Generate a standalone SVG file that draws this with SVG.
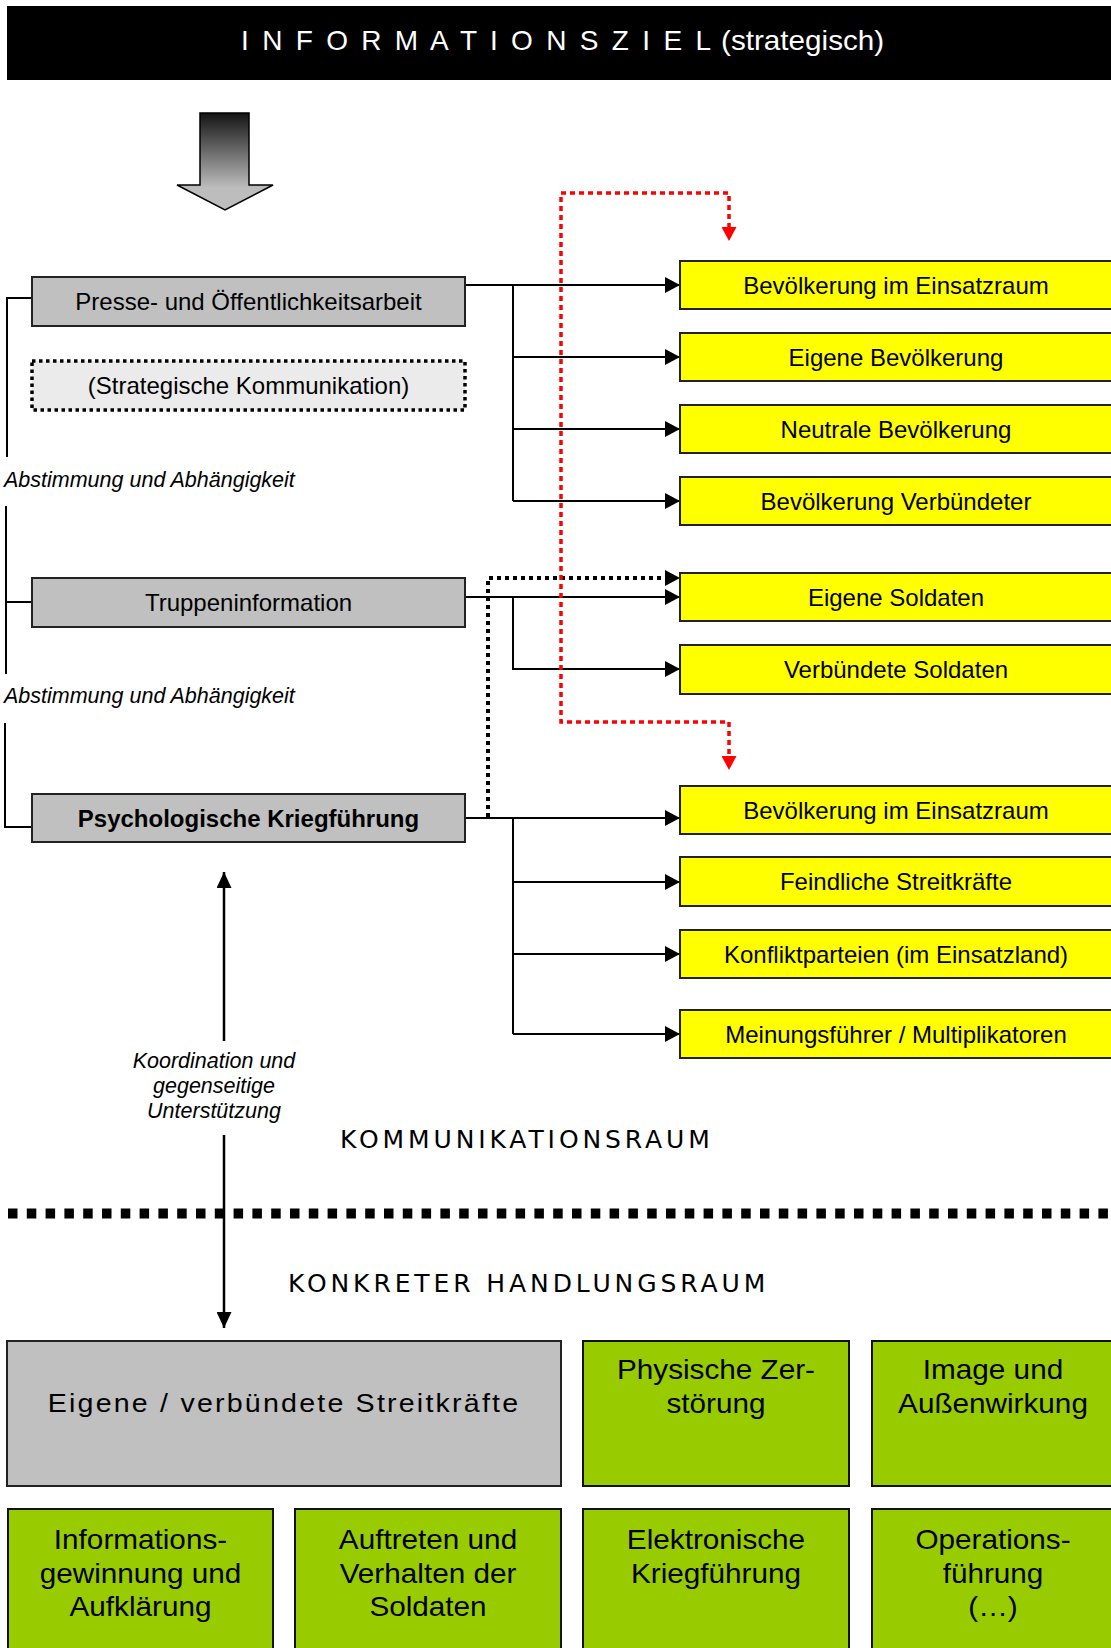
<svg xmlns="http://www.w3.org/2000/svg" width="1111" height="1648" viewBox="0 0 1111 1648">
<style>
  .lbl { font-family: "Liberation Sans", Arial, sans-serif; font-size: 24px; fill: #000; text-anchor: middle; }
  .big { font-family: "Liberation Sans", Arial, sans-serif; font-size: 27px; fill: #000; text-anchor: middle; }
  .ital { font-family: "Liberation Sans", Arial, sans-serif; font-size: 21.5px; font-style: italic; fill: #000; }
  .space { font-family: "DejaVu Sans", Verdana, sans-serif; font-size: 25px; fill: #000; letter-spacing: 3.9px; }
  .grey { fill: #c0c0c0; stroke: #222; stroke-width: 2; }
  .yel { fill: #ffff00; stroke: #222; stroke-width: 2; }
  .grn { fill: #99cc00; stroke: #111; stroke-width: 2; }
  .con { fill: none; stroke: #000; stroke-width: 2; }
</style>
<defs>
  <marker id="ah" markerUnits="userSpaceOnUse" markerWidth="15" markerHeight="16" refX="15" refY="8" orient="auto">
    <path d="M0,0 L15,8 L0,16 z" fill="#000"/>
  </marker>
  <marker id="ahv" markerUnits="userSpaceOnUse" markerWidth="16" markerHeight="15" refX="16" refY="7.5" orient="auto">
    <path d="M0,0 L16,7.5 L0,15 z" fill="#000"/>
  </marker>
  <marker id="ahr" markerUnits="userSpaceOnUse" markerWidth="14" markerHeight="15" refX="14" refY="7.5" orient="auto">
    <path d="M0,0 L14,7.5 L0,15 z" fill="#ff0000"/>
  </marker>
  <linearGradient id="gArrow" gradientUnits="userSpaceOnUse" x1="0" y1="113" x2="0" y2="188">
    <stop offset="0" stop-color="#141414"/>
    <stop offset="1" stop-color="#bdbdbd"/>
  </linearGradient>
</defs>

<rect width="1111" height="1648" fill="#fff"/>

<g id="title">
  <rect x="7" y="6" width="1110" height="74" fill="#000"/>
  <text x="241" y="50" font-family="Liberation Sans, Arial, sans-serif" font-size="28" fill="#fff" textLength="470" lengthAdjust="spacing">I N F O R M A T I O N S Z I E L</text>
  <text transform="translate(721,50) scale(1.06,1)" font-family="Liberation Sans, Arial, sans-serif" font-size="28" fill="#fff">(strategisch)</text>
</g>

<g id="bigArrow">
  <path d="M200,113 H249 V185 H273 L225,210 L177,185 H200 Z" fill="url(#gArrow)" stroke="#000" stroke-width="1.5"/>
</g>

<g id="connectors">
  <path class="con" d="M32,298 H7 V457"/>
  <path class="con" d="M6,506 V674 M6,602 H32"/>
  <path class="con" d="M5,723 V827 H32"/>
  <path class="con" d="M465,285 H680" marker-end="url(#ah)"/>
  <path class="con" d="M513,285 V501"/>
  <path class="con" d="M513,357 H680" marker-end="url(#ah)"/>
  <path class="con" d="M513,429 H680" marker-end="url(#ah)"/>
  <path class="con" d="M513,501 H680" marker-end="url(#ah)"/>
  <path class="con" d="M465,597 H680" marker-end="url(#ah)"/>
  <path class="con" d="M513,597 V669 H680" marker-end="url(#ah)"/>
  <path class="con" d="M465,818 H680" marker-end="url(#ah)"/>
  <path class="con" d="M513,818 V1034"/>
  <path class="con" d="M513,882 H680" marker-end="url(#ah)"/>
  <path class="con" d="M513,954 H680" marker-end="url(#ah)"/>
  <path class="con" d="M513,1034 H680" marker-end="url(#ah)"/>
  <path d="M488,817 V578 H666" fill="none" stroke="#000" stroke-width="4" stroke-dasharray="4 4"/>
  <path d="M666,578 H680" fill="none" stroke="none" marker-end="url(#ah)"/>
  <path d="M729,228 V193 H561 V722 H729 V757" fill="none" stroke="#ff0000" stroke-width="3.5" stroke-dasharray="5 4"/>
  <path d="M729,228 V241" fill="none" stroke="none" marker-end="url(#ahr)"/>
  <path d="M729,757 V770" fill="none" stroke="none" marker-end="url(#ahr)"/>
  <line x1="8" y1="1213.5" x2="1111" y2="1213.5" stroke="#000" stroke-width="10" stroke-dasharray="9.5 9.3"/>
  <path d="M224,1041 V872" fill="none" stroke="#000" stroke-width="2.5" marker-end="url(#ahv)"/>
  <path d="M224,1135 V1328" fill="none" stroke="#000" stroke-width="2.5" marker-end="url(#ahv)"/>
</g>

<g id="labels">
  <text class="ital" x="4" y="487">Abstimmung und Abhängigkeit</text>
  <text class="ital" x="4" y="703">Abstimmung und Abhängigkeit</text>
  <text class="ital" x="214" y="1068" text-anchor="middle">Koordination und</text>
  <text class="ital" x="214" y="1093" text-anchor="middle">gegenseitige</text>
  <text class="ital" x="214" y="1118" text-anchor="middle">Unterstützung</text>
  <text class="space" x="340" y="1148">KOMMUNIKATIONSRAUM</text>
  <text class="space" x="288" y="1292">KONKRETER HANDLUNGSRAUM</text>
</g>

<g id="presse">
  <rect class="grey" x="32" y="277" width="433" height="49"/>
  <text class="lbl" x="248.5" y="310">Presse- und Öffentlichkeitsarbeit</text>
</g>
<g id="strategische">
  <rect x="32" y="361" width="433" height="49" fill="#ebebeb" stroke="#000" stroke-width="3.5" stroke-dasharray="3.5 3.5"/>
  <text class="lbl" x="248.5" y="394">(Strategische Kommunikation)</text>
</g>
<g id="truppen">
  <rect class="grey" x="32" y="578" width="433" height="49"/>
  <text class="lbl" x="248.5" y="611">Truppeninformation</text>
</g>
<g id="psych">
  <rect class="grey" x="32" y="794" width="433" height="48"/>
  <text class="lbl" x="248.5" y="826.5" font-weight="bold">Psychologische Kriegführung</text>
</g>

<g id="y1"><rect class="yel" x="680" y="261" width="434" height="48"/><text class="lbl" x="896" y="293.5">Bevölkerung im Einsatzraum</text></g>
<g id="y2"><rect class="yel" x="680" y="333" width="434" height="48"/><text class="lbl" x="896" y="365.5">Eigene Bevölkerung</text></g>
<g id="y3"><rect class="yel" x="680" y="405" width="434" height="48"/><text class="lbl" x="896" y="437.5">Neutrale Bevölkerung</text></g>
<g id="y4"><rect class="yel" x="680" y="477" width="434" height="48"/><text class="lbl" x="896" y="509.5">Bevölkerung Verbündeter</text></g>
<g id="y5"><rect class="yel" x="680" y="573" width="434" height="48"/><text class="lbl" x="896" y="605.5">Eigene Soldaten</text></g>
<g id="y6"><rect class="yel" x="680" y="645" width="434" height="49"/><text class="lbl" x="896" y="678">Verbündete Soldaten</text></g>
<g id="y7"><rect class="yel" x="680" y="786" width="434" height="48"/><text class="lbl" x="896" y="818.5">Bevölkerung im Einsatzraum</text></g>
<g id="y8"><rect class="yel" x="680" y="857" width="434" height="49"/><text class="lbl" x="896" y="890">Feindliche Streitkräfte</text></g>
<g id="y9"><rect class="yel" x="680" y="930" width="434" height="48"/><text class="lbl" x="896" y="962.5">Konfliktparteien (im Einsatzland)</text></g>
<g id="y10"><rect class="yel" x="680" y="1010" width="434" height="48"/><text class="lbl" x="896" y="1042.5">Meinungsführer / Multiplikatoren</text></g>

<g id="eigeneStreitkraefte">
  <rect class="grey" x="7" y="1341" width="554" height="145"/>
  <text transform="translate(284,1412) scale(1.1,1)" font-family="Liberation Sans, Arial, sans-serif" font-size="26" text-anchor="middle" letter-spacing="2">Eigene / verbündete Streitkräfte</text>
</g>
<g id="physisch">
  <rect class="grn" x="583" y="1341" width="266" height="145"/>
  <text class="big" transform="translate(716,1379) scale(1.1,1)">Physische Zer-</text>
  <text class="big" transform="translate(716,1413) scale(1.1,1)">störung</text>
</g>
<g id="image">
  <rect class="grn" x="872" y="1341" width="244" height="145"/>
  <text class="big" transform="translate(993,1379) scale(1.1,1)">Image und</text>
  <text class="big" transform="translate(993,1413) scale(1.1,1)">Außenwirkung</text>
</g>
<g id="info">
  <rect class="grn" x="8" y="1509" width="265" height="150"/>
  <text class="big" transform="translate(140.5,1549) scale(1.1,1)">Informations-</text>
  <text class="big" transform="translate(140.5,1583) scale(1.1,1)">gewinnung und</text>
  <text class="big" transform="translate(140.5,1616) scale(1.1,1)">Aufklärung</text>
</g>
<g id="auftreten">
  <rect class="grn" x="295" y="1509" width="266" height="150"/>
  <text class="big" transform="translate(428,1549) scale(1.1,1)">Auftreten und</text>
  <text class="big" transform="translate(428,1583) scale(1.1,1)">Verhalten der</text>
  <text class="big" transform="translate(428,1616) scale(1.1,1)">Soldaten</text>
</g>
<g id="elektronisch">
  <rect class="grn" x="583" y="1509" width="266" height="150"/>
  <text class="big" transform="translate(716,1549) scale(1.1,1)">Elektronische</text>
  <text class="big" transform="translate(716,1583) scale(1.1,1)">Kriegführung</text>
</g>
<g id="operations">
  <rect class="grn" x="872" y="1509" width="244" height="150"/>
  <text class="big" transform="translate(993,1549) scale(1.1,1)">Operations-</text>
  <text class="big" transform="translate(993,1583) scale(1.1,1)">führung</text>
  <text class="big" transform="translate(993,1616) scale(1.1,1)">(…)</text>
</g>
</svg>
